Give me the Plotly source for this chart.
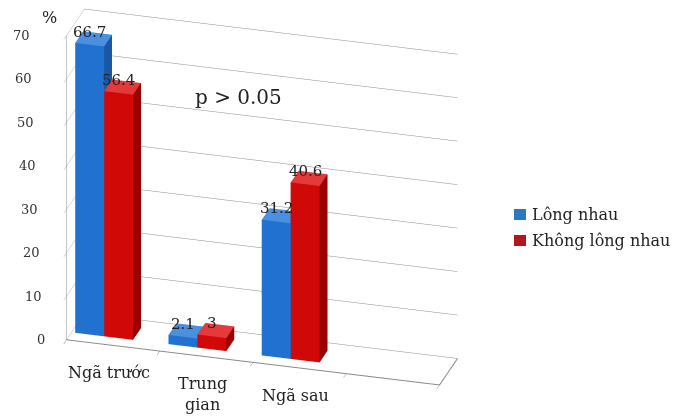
import math
import plotly.graph_objects as go

# ---- data -------------------------------------------------------------
categories = ["Ngã trước", "Trung gian", "Ngã sau"]
category_labels = ["Ngã trước", "Trung<br>gian", "Ngã sau"]
series_names = ["Lông nhau", "Không lông nhau"]
values_long_nhau = [66.7, 2.1, 31.2]
values_khong_long_nhau = [56.4, 3.0, 40.6]
text_long_nhau = ["66.7", "2.1", "31.2"]
text_khong_long_nhau = ["56.4", "3", "40.6"]
value_ticks = [0, 10, 20, 30, 40, 50, 60, 70]
value_tick_text = ["0", "10", "20", "30", "40", "50", "60", "70"]

N_SLOTS = 4          # the floor keeps one empty slot on the right
BAR_W = 0.31         # width of one bar in slot units
PAIR_SHIFT = -0.15   # bar pair sits left of the slot centre
DEPTH = (0.28, 0.72) # bar depth inside the floor
FONT = "DejaVu Serif"
LINE = "#8a8a8a"
ZOOM = 1.97          # orthographic zoom is set through the box size

# front / right side / top colours for each series
face_colors = {
    "Lông nhau": ("#2171d0", "#1a58a6", "#4a8fe0"),
    "Không lông nhau": ("#d00808", "#990000", "#e43a3a"),
}
legend_colors = {"Lông nhau": "#2e78c2", "Không lông nhau": "#b3161e"}


def bar_left(c, offset):
    return c + 0.5 + PAIR_SHIFT - BAR_W + offset * BAR_W


def series_mesh(name, values, offset):
    front, side, top = face_colors[name]
    xs, ys, zs, ii, jj, kk, fc = [], [], [], [], [], [], []
    y0, y1 = DEPTH
    for c, v in enumerate(values):
        x0 = bar_left(c, offset)
        x1 = x0 + BAR_W
        b = len(xs)
        xs += [x0, x1, x1, x0, x0, x1, x1, x0]
        ys += [y0, y0, y1, y1, y0, y0, y1, y1]
        zs += [0, 0, 0, 0, v, v, v, v]
        tris = [
            ((0, 1, 2), side), ((0, 2, 3), side),      # bottom
            ((4, 5, 6), top), ((4, 6, 7), top),        # top
            ((0, 1, 5), front), ((0, 5, 4), front),    # front
            ((3, 2, 6), side), ((3, 6, 7), side),      # back
            ((0, 3, 7), side), ((0, 7, 4), side),      # left
            ((1, 2, 6), side), ((1, 6, 5), side),      # right
        ]
        for (a, bb, cc), col in tris:
            ii.append(b + a)
            jj.append(b + bb)
            kk.append(b + cc)
            fc.append(col)
    return go.Mesh3d(
        x=xs, y=ys, z=zs, i=ii, j=jj, k=kk,
        facecolor=fc, flatshading=True, name=name, showlegend=False,
        hoverinfo="skip",
        lighting=dict(ambient=1.0, diffuse=0.0, specular=0.0,
                      roughness=1.0, fresnel=0.0),
    )


fig = go.Figure()
fig.add_trace(series_mesh(series_names[0], values_long_nhau, 0))
fig.add_trace(series_mesh(series_names[1], values_khong_long_nhau, 1))

# floor outline: front edge and right edge
fig.add_trace(go.Scatter3d(
    x=[0, N_SLOTS, N_SLOTS], y=[0, 0, 1], z=[0, 0, 0],
    mode="lines", line=dict(color=LINE, width=2),
    showlegend=False, hoverinfo="skip",
))

annotations = []
# value labels above each bar
for values, texts, offset in [
    (values_long_nhau, text_long_nhau, 0),
    (values_khong_long_nhau, text_khong_long_nhau, 1),
]:
    for c, (v, t) in enumerate(zip(values, texts)):
        xc = bar_left(c, offset) + BAR_W / 2
        annotations.append(dict(
            x=xc, y=DEPTH[0], z=v, text=t, showarrow=False,
            xanchor="center", yanchor="bottom", yshift=2,
            font=dict(family=FONT, size=15, color="#222222"),
        ))
# category labels under the floor
for c, lab in enumerate(category_labels):
    annotations.append(dict(
        x=c + 0.5, y=0, z=0, text=lab, showarrow=False,
        xanchor="center", yanchor="top", yshift=-16, xshift=-4,
        font=dict(family=FONT, size=16, color="#222222"),
    ))
# value axis tick labels, kept upright and drifting left as they rise
for v, t in zip(value_ticks, value_tick_text):
    annotations.append(dict(
        x=0, y=0, z=v, text=t, showarrow=False,
        xanchor="right", yanchor="middle",
        xshift=-20 - v * 15 / max(value_ticks),
        font=dict(family=FONT, size=13, color="#333333"),
    ))
# unit of the value axis
annotations.append(dict(
    x=0, y=0, z=max(value_ticks), text="%", showarrow=False,
    xanchor="right", yanchor="bottom", xshift=-8, yshift=6,
    font=dict(family=FONT, size=16, color="#222222"),
))

phi = math.radians(16)
theta = math.radians(25)
r = 2.0
eye = dict(x=r * math.sin(phi) * math.cos(theta),
           y=-r * math.cos(phi) * math.cos(theta),
           z=r * math.sin(theta))

axis_common = dict(showbackground=False, showspikes=False, title="",
                   zeroline=False)

fig.update_layout(
    width=681, height=418,
    margin=dict(l=0, r=0, t=0, b=0),
    paper_bgcolor="white",
    showlegend=False,
    scene=dict(
        domain=dict(x=[0, 0.77], y=[0.058, 1]),
        bgcolor="white",
        aspectmode="manual",
        aspectratio=dict(x=1 * ZOOM, y=0.168 * ZOOM, z=0.865 * ZOOM),
        camera=dict(eye=eye, center=dict(x=0, y=0, z=0),
                    up=dict(x=0, y=0, z=1),
                    projection=dict(type="orthographic")),
        xaxis=dict(range=[0, N_SLOTS], tickvals=list(range(N_SLOTS + 1)),
                   ticktext=[""] * (N_SLOTS + 1), ticks="outside",
                   ticklen=6, tickcolor=LINE,
                   showgrid=False, showline=True, linecolor=LINE,
                   showticklabels=False, **axis_common),
        yaxis=dict(range=[0, 1], showgrid=False, showline=False,
                   showticklabels=False, ticks="", **axis_common),
        zaxis=dict(range=[0, max(value_ticks)], tickvals=value_ticks,
                   ticks="outside", ticklen=5, tickcolor=LINE,
                   showgrid=True, gridcolor=LINE, gridwidth=1,
                   showline=True, linecolor=LINE,
                   showticklabels=False, **axis_common),
        annotations=annotations,
    ),
)

# p-value note
fig.add_annotation(x=193 / 681, y=1 - 97 / 418, xref="paper", yref="paper",
                   text="p > 0.05", showarrow=False, xanchor="left",
                   yanchor="middle",
                   font=dict(family=FONT, size=20, color="#222222"))

# legend drawn as colour squares with their series names
legend_rows = [214, 240]
for name, ypx in zip(series_names, legend_rows):
    fig.add_shape(type="rect", xref="paper", yref="paper",
                  x0=514 / 681, x1=526 / 681,
                  y0=1 - (ypx + 6) / 418, y1=1 - (ypx - 5) / 418,
                  fillcolor=legend_colors[name], line=dict(width=0))
    fig.add_annotation(x=530 / 681, y=1 - ypx / 418, xref="paper",
                       yref="paper", text=name, showarrow=False,
                       xanchor="left", yanchor="middle",
                       font=dict(family=FONT, size=16, color="#222222"))

fig.write_html("out.html")
